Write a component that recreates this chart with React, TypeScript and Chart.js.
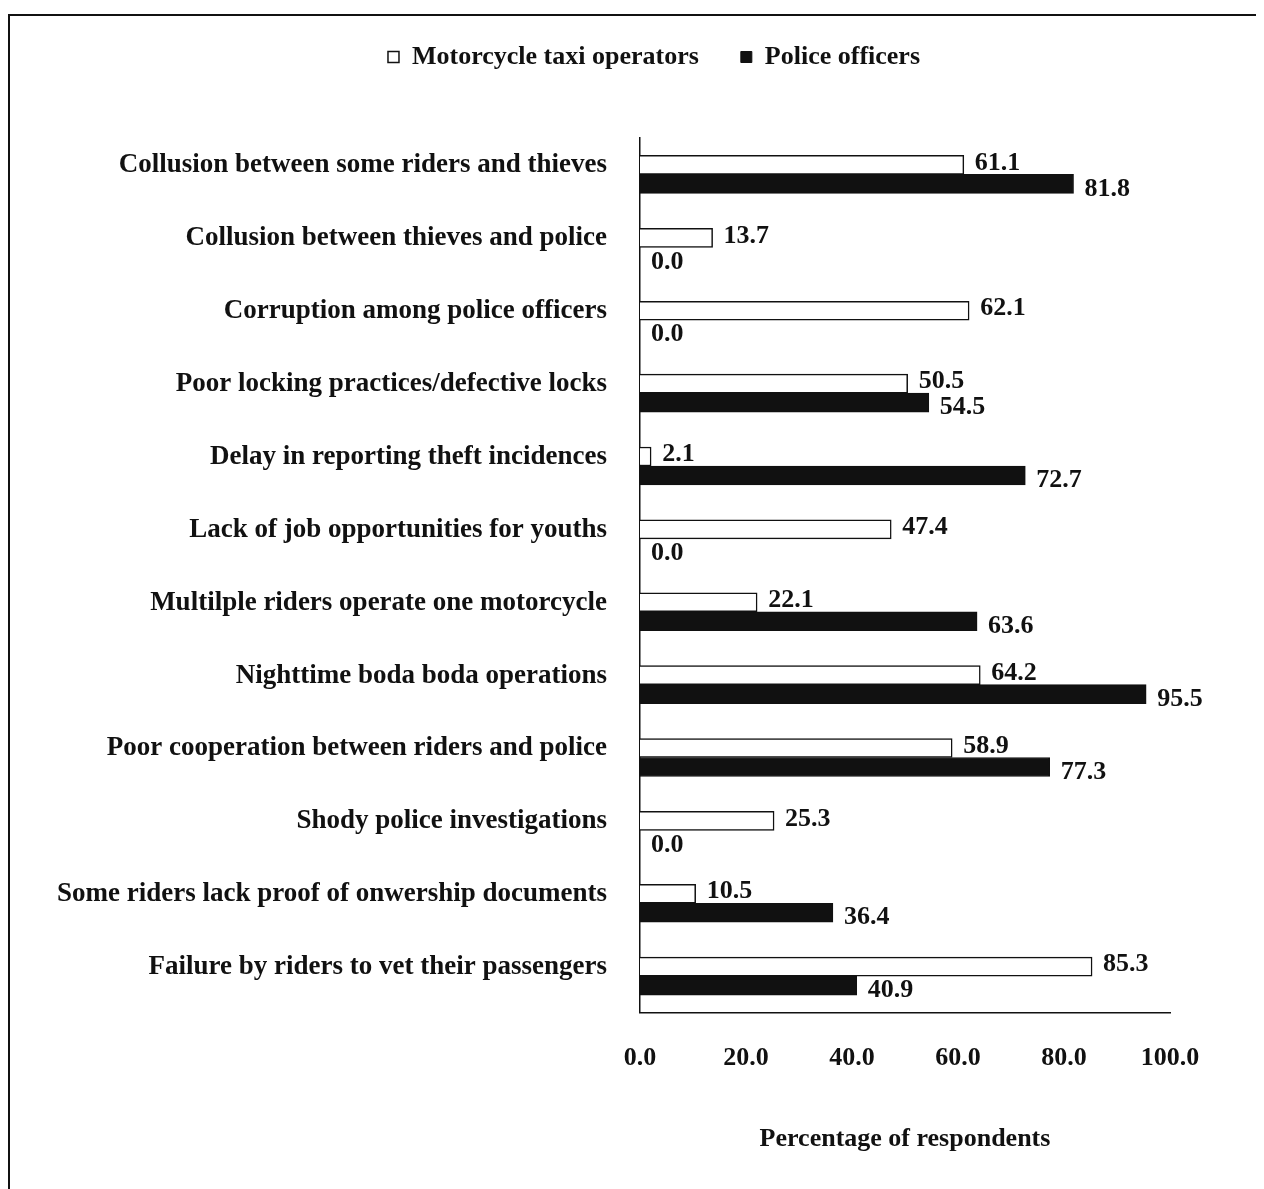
import React, { useEffect, useRef } from "react";
import { Chart, registerables } from "chart.js";

Chart.register(...registerables);

const categories = [
  "Collusion between some riders and thieves",
  "Collusion between thieves and police",
  "Corruption among police officers",
  "Poor locking practices/defective locks",
  "Delay in reporting theft incidences",
  "Lack of job opportunities for youths",
  "Multilple riders operate one motorcycle",
  "Nighttime boda boda operations",
  "Poor cooperation between riders and police",
  "Shody police investigations",
  "Some riders lack proof of onwership documents",
  "Failure by riders to vet their passengers",
];
const motorcycleOperators = [61.1, 13.7, 62.1, 50.5, 2.1, 47.4, 22.1, 64.2, 58.9, 25.3, 10.5, 85.3];
const policeOfficers = [81.8, 0.0, 0.0, 54.5, 72.7, 0.0, 63.6, 95.5, 77.3, 0.0, 36.4, 40.9];
const seriesNames = ["Motorcycle taxi operators", "Police officers"];
const axisTitle = "Percentage of respondents";

const FONT = '"Liberation Serif", "Times New Roman", serif';

const valueLabels = {
  id: "valueLabels",
  afterDatasetsDraw(chart: any) {
    const ctx = chart.ctx;
    ctx.save();
    ctx.font = `bold 26px ${FONT}`;
    ctx.fillStyle = "#111";
    ctx.textAlign = "left";
    ctx.textBaseline = "middle";
    chart.data.datasets.forEach((ds: any, di: number) => {
      const meta = chart.getDatasetMeta(di);
      meta.data.forEach((bar: any, i: number) => {
        const v = ds.data[i] as number;
        ctx.fillText(v.toFixed(1), bar.x + 11, bar.y + (di === 1 ? 5 : -2));
      });
    });
    ctx.restore();
  },
};

const legendSpacing = {
  id: "legendSpacing",
  beforeInit(chart: any) {
    const orig = chart.legend.fit;
    chart.legend.fit = function () {
      orig.bind(chart.legend)();
      this.height += 38;
    };
  },
  afterLayout(chart: any) {
    const lg = chart.legend;
    if (!lg) return;
    lg.left += 59;
    lg.right += 59;
    lg.top -= 20;
    lg.bottom -= 20;
  },
};

export default function App() {
  const ref = useRef<HTMLCanvasElement>(null);
  useEffect(() => {
    if (!ref.current) return;
    const chart = new Chart(ref.current, {
      type: "bar",
      data: {
        labels: categories,
        datasets: [
          {
            label: seriesNames[0],
            data: motorcycleOperators,
            backgroundColor: "#ffffff",
            borderColor: "#111",
            borderWidth: 1.5,
            barThickness: 19,
          },
          {
            label: seriesNames[1],
            data: policeOfficers,
            backgroundColor: "#111",
            borderColor: "#111",
            borderWidth: 1,
            barThickness: 19,
          },
        ],
      },
      options: {
        indexAxis: "y",
        animation: false,
        responsive: true,
        maintainAspectRatio: false,
        layout: { padding: { top: 6, left: 10, right: 92, bottom: 30 } },
        plugins: {
          legend: {
            position: "top",
            labels: {
              font: { family: FONT, size: 26, weight: "bold" },
              color: "#111",
              boxWidth: 11,
              boxHeight: 11,
              padding: 42,
            },
          },
          tooltip: { enabled: false },
        },
        scales: {
          x: {
            min: 0,
            max: 100,
            ticks: {
              stepSize: 20,
              padding: 30,
              color: "#111",
              font: { family: FONT, size: 26, weight: "bold" },
              callback: (v: any) => Number(v).toFixed(1),
            },
            grid: { display: false, drawTicks: false },
            border: { display: true, color: "#111", width: 1.5 },
            title: {
              display: true,
              text: axisTitle,
              color: "#111",
              font: { family: FONT, size: 26, weight: "bold" },
              padding: { top: 20 },
            },
          },
          y: {
            afterFit: (axis: any) => {
              axis.width = 620;
            },
            ticks: {
              padding: 33,
              labelOffset: -9,
              color: "#111",
              font: { family: FONT, size: 27, weight: "bold" },
            },
            grid: { display: false, drawTicks: false },
            border: { display: true, color: "#111", width: 1.5 },
          },
        },
      },
      plugins: [valueLabels, legendSpacing],
    });
    return () => chart.destroy();
  }, []);
  return (
    <div
      style={{
        marginTop: 6,
        width: 1252,
        height: 1173,
        borderLeft: "2px solid #111",
        borderTop: "2px solid #111",
        borderRight: "2px solid #111",
        background: "#fff",
      }}
    >
      <canvas ref={ref} />
    </div>
  );
}
